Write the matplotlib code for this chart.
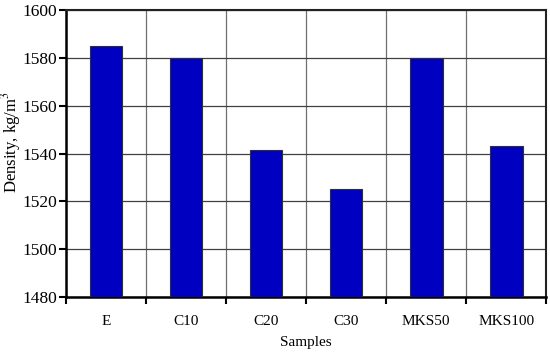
import numpy as np
import matplotlib.pyplot as plt
from matplotlib.ticker import FixedLocator

samples = ["E", "C10", "C20", "C30", "MKS50", "MKS100"]
density = [1585, 1580, 1541.5, 1525, 1580, 1543]

plt.rcParams['font.family'] = ['Liberation Serif', 'DejaVu Serif']
plt.rcParams['mathtext.fontset'] = 'stix'

fig = plt.figure(figsize=(5.5, 3.55), dpi=100)
ax = fig.add_axes([0.12, 0.163, 0.873, 0.809])

x = np.arange(len(samples))
ax.bar(x, [d - 1480 for d in density], bottom=1480, width=0.41,
       color='#0000c0', edgecolor='#303030', linewidth=0.8, zorder=3)

ax.set_xlim(-0.5, len(samples) - 0.5)
ax.set_ylim(1480, 1600)
ax.set_yticks(np.arange(1480, 1601, 20))

# category labels centred, ticks and grid on the boundaries
ax.set_xticks(x)
ax.set_xticklabels(samples)
ax.xaxis.set_minor_locator(FixedLocator(np.arange(-0.5, len(samples), 1.0)))
ax.tick_params(axis='x', which='major', length=0, pad=13, labelsize=11)
ax.tick_params(axis='x', which='minor', length=5, width=1.5, direction='out')
ax.tick_params(axis='y', which='major', length=5, width=1.5, direction='out',
               labelsize=12.5, pad=1.5)

ax.grid(axis='y', which='major', color='#404040', linewidth=0.9, zorder=0)
ax.grid(axis='x', which='minor', color='#707070', linewidth=0.9, zorder=0)

for side in ['left', 'bottom']:
    ax.spines[side].set_linewidth(1.8)
for side in ['top', 'right']:
    ax.spines[side].set_linewidth(1.5)
    ax.spines[side].set_color('#222222')

ax.set_xlabel('Samples', fontsize=11)
ax.xaxis.set_label_coords(0.5, -0.135)
ax.set_ylabel('Density, kg/m$^3$', fontsize=12)
ax.yaxis.set_label_coords(-0.09, 0.54)

fig.savefig('out.png', dpi=100)
